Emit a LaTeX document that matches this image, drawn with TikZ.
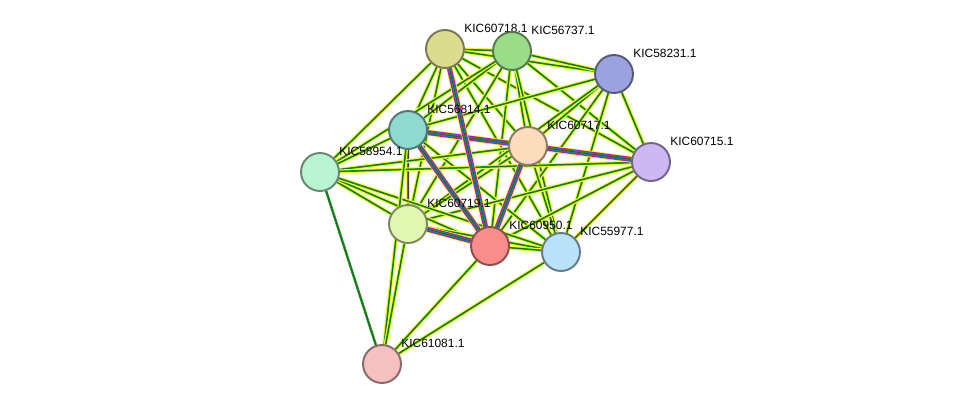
\documentclass[tikz,border=0pt]{standalone}
\usepackage{fontspec}
\setmainfont{Liberation Sans}
\usetikzlibrary{backgrounds}

\begin{document}
\begin{tikzpicture}[
    x=0.02cm, y=-0.02cm,
    prot/.style={circle, draw=#1!55!black, fill=#1, line width=1.1pt, minimum size=0.76cm, inner sep=0pt},
    lab/.style={label={[inner sep=0.5pt, label distance=-1pt, xshift=3pt, yshift=1.5pt, font=\fontsize{6.8}{7}\selectfont]45:#1}},
    edge/.style={line width=0.3pt, draw=black!75,
        preaction={draw=yellow!75!white, line width=2.3pt},
        preaction={draw=green!70!black, line width=1.0pt}},
    strong/.style={line width=0.3pt, draw=black!75,
        preaction={draw=yellow!75!white, line width=3.6pt},
        preaction={draw=magenta, line width=2.8pt},
        preaction={draw=blue!70, line width=2.0pt},
        preaction={draw=green!70!black, line width=1.0pt}},
    grey/.style={line width=0.5pt, draw=black!70,
        preaction={draw=green!65!black, line width=1.4pt}}
]
\useasboundingbox (0,0) rectangle (975,410);

\definecolor{ckhaki}{HTML}{DCDC8F}
\definecolor{cgreen}{HTML}{99DD88}
\definecolor{cblue}{HTML}{9AA3E0}
\definecolor{cteal}{HTML}{8FDAD0}
\definecolor{cpeach}{HTML}{FDDCBC}
\definecolor{clav}{HTML}{CDB8F5}
\definecolor{cmint}{HTML}{B8F5D0}
\definecolor{clime}{HTML}{E0F8B0}
\definecolor{cred}{HTML}{FA8C8C}
\definecolor{csky}{HTML}{B8E2F8}
\definecolor{cpink}{HTML}{F5C0C0}

% Proteins
\node[prot=ckhaki, lab=KIC60718.1] (n60718) at (445,49) {};
\node[prot=cgreen, lab=KIC56737.1] (n56737) at (512,51) {};
\node[prot=cblue, lab=KIC58231.1] (n58231) at (614,74) {};
\node[prot=cteal, lab=KIC56814.1] (n56814) at (408,130) {};
\node[prot=cpeach, lab=KIC60717.1] (n60717) at (528,146) {};
\node[prot=clav, lab=KIC60715.1] (n60715) at (651,162) {};
\node[prot=cmint, lab=KIC58954.1] (n58954) at (320,172) {};
\node[prot=clime, lab=KIC60719.1] (n60719) at (408,224) {};
\node[prot=cred, lab=KIC60950.1] (n60950) at (490,246) {};
\node[prot=csky, lab=KIC55977.1] (n55977) at (561,252) {};
\node[prot=cpink, lab=KIC61081.1] (n61081) at (382,364) {};

% Links
\begin{scope}[on background layer]
\foreach \a/\b in {n60718/n56737, n60718/n58231, n60718/n56814, n60718/n60717,
    n60718/n60715, n60718/n58954, n60718/n60719, n60718/n55977,
    n56737/n58231, n56737/n56814, n56737/n60717, n56737/n60715, n56737/n58954,
    n56737/n60719, n56737/n60950, n56737/n55977,
    n58231/n56814, n58231/n60717, n58231/n60715, n58231/n60719, n58231/n60950,
    n58231/n55977, n56814/n58954, n56814/n60719, n56814/n55977,
    n60717/n58954, n60717/n60719, n60717/n55977, n60715/n58954, n60715/n60719,
    n60715/n60950, n60715/n55977, n58954/n60719, n58954/n60950, n58954/n55977,
    n60719/n55977, n60950/n55977,
    n61081/n56814, n61081/n60719, n61081/n60950, n61081/n55977}
    \draw[edge] (\a) -- (\b);
\foreach \a/\b in {n56814/n60717, n60717/n60715, n56814/n60715, n60719/n60950,
    n60717/n60950, n56814/n60950, n60718/n60950}
    \draw[strong] (\a) -- (\b);
\draw[grey] (n58954) -- (n61081);
\end{scope}
\end{tikzpicture}
\end{document}
